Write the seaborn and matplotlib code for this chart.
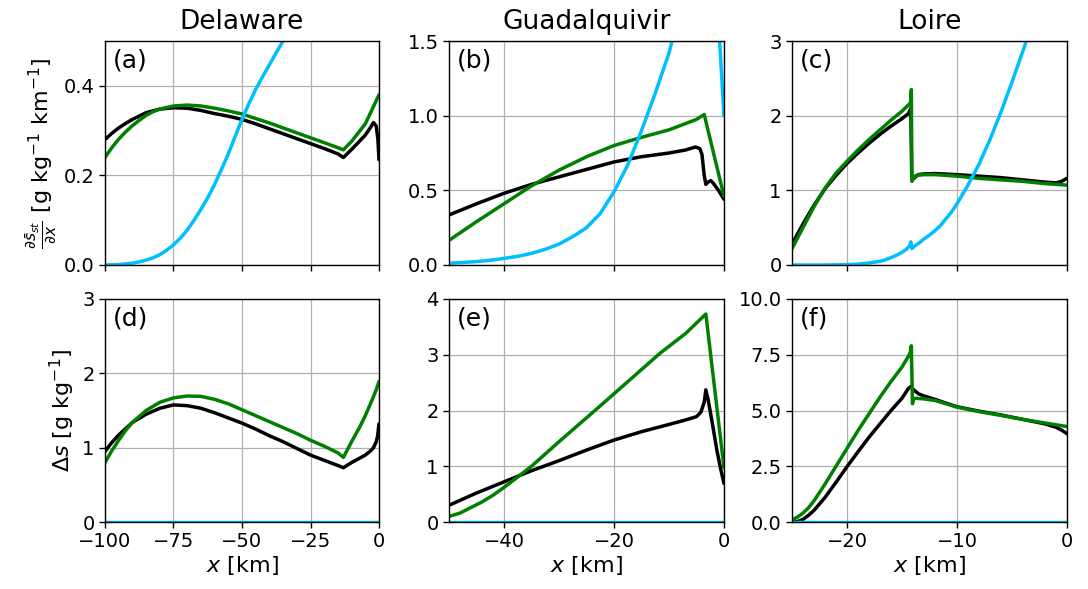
import numpy as np
import pandas as pd
import matplotlib
matplotlib.use("Agg")
import matplotlib.pyplot as plt
import seaborn as sns

# ---------------- data ----------------
titles = ["Delaware", "Guadalquivir", "Loire"]
panel_labels = ["(a)", "(b)", "(c)", "(d)", "(e)", "(f)"]

# Delaware - gradient (a)
a_black_x = [-100, -97.5, -95, -92.5, -90, -85, -80, -75, -70, -65, -60, -55, -50, -45, -40, -35, -30, -25, -20, -15, -13, -10, -7, -5, -3, -2, -1, -0.4, 0]
a_black_y = [0.28, 0.294, 0.306, 0.316, 0.325, 0.34, 0.348, 0.351, 0.35, 0.345, 0.338, 0.332, 0.325, 0.315, 0.304, 0.293, 0.282, 0.271, 0.26, 0.248, 0.24, 0.258, 0.277, 0.29, 0.308, 0.318, 0.31, 0.28, 0.235]
a_green_x = [-100, -97.5, -95, -92.5, -90, -87.5, -85, -82.5, -80, -75, -70, -65, -60, -55, -50, -45, -40, -35, -30, -25, -20, -15, -13, -10, -5, 0]
a_green_y = [0.24, 0.262, 0.281, 0.297, 0.311, 0.323, 0.334, 0.342, 0.348, 0.355, 0.357, 0.355, 0.35, 0.344, 0.337, 0.327, 0.317, 0.306, 0.295, 0.284, 0.273, 0.262, 0.257, 0.276, 0.315, 0.38]
a_blue_x = [-100, -95, -90, -87.5, -85, -82.5, -80, -77.5, -75, -72.5, -70, -67.5, -65, -62.5, -60, -57.5, -55, -52.5, -50, -47.5, -45, -42.5, -40, -37.5, -35, -30, -25]
a_blue_y = [0.0, 0.001, 0.004, 0.007, 0.011, 0.016, 0.023, 0.033, 0.045, 0.06, 0.078, 0.1, 0.124, 0.15, 0.18, 0.213, 0.248, 0.287, 0.325, 0.36, 0.392, 0.42, 0.447, 0.474, 0.5, 0.548, 0.59]

# Guadalquivir - gradient (b)
b_black_x = [-50, -45, -40, -35, -30, -25, -20, -15, -10, -7, -5.2, -4.4, -4.0, -3.6, -3.3, -2.9, -2.4, -2, -1, 0]
b_black_y = [0.335, 0.41, 0.48, 0.54, 0.59, 0.64, 0.69, 0.725, 0.75, 0.77, 0.79, 0.78, 0.74, 0.6, 0.54, 0.555, 0.565, 0.55, 0.5, 0.44]
b_green_x = [-50, -45, -40, -35, -30, -25, -20, -15, -10, -5, -3.6, 0]
b_green_y = [0.165, 0.29, 0.41, 0.53, 0.635, 0.725, 0.8, 0.855, 0.905, 0.975, 1.008, 0.46]
b_blue_x = [-50, -47.5, -45, -42.5, -40, -37.5, -35, -32.5, -30, -27.5, -25, -22.5, -20, -17.5, -15, -12.5, -10, -7.5, -5, -3, -2, -1.2, -0.8, 0]
b_blue_y = [0.012, 0.017, 0.023, 0.032, 0.044, 0.058, 0.078, 0.105, 0.14, 0.19, 0.25, 0.345, 0.49, 0.67, 0.9, 1.15, 1.42, 1.78, 2.3, 2.8, 3.0, 2.5, 1.5, 1.0]

# Loire - gradient (c)
c_black_x = [-25, -24, -23, -22, -21, -20, -19, -18, -17, -16, -15, -14.4, -14.2, -14.12, -14.0, -13.8, -13.5, -13, -12, -10, -8, -6, -4, -2, -1, -0.5, 0]
c_black_y = [0.28, 0.55, 0.8, 1.02, 1.2, 1.36, 1.5, 1.63, 1.75, 1.86, 1.96, 2.03, 2.1, 1.2, 1.15, 1.18, 1.21, 1.22, 1.225, 1.21, 1.19, 1.17, 1.14, 1.11, 1.1, 1.12, 1.16]
c_green_x = [-25, -24, -23, -22, -21, -20, -19, -18, -17, -16, -15, -14.3, -14.2, -14.15, -14.1, -14.0, -13.7, -13, -12, -10, -8, -6, -4, -2, 0]
c_green_y = [0.22, 0.5, 0.78, 1.03, 1.23, 1.39, 1.54, 1.68, 1.81, 1.94, 2.06, 2.16, 2.18, 2.35, 1.12, 1.17, 1.2, 1.21, 1.21, 1.19, 1.16, 1.14, 1.12, 1.09, 1.07]
c_blue_x = [-25, -22, -20, -19, -18, -17, -16.5, -16, -15.5, -15, -14.6, -14.3, -14.2, -14.1, -13.8, -13.4, -13, -12.5, -12, -11.5, -11, -10.5, -10, -9, -8, -7, -6, -5, -4, -3, -2, 0]
c_blue_y = [0.0, 0.0, 0.005, 0.012, 0.026, 0.05, 0.07, 0.098, 0.13, 0.17, 0.21, 0.26, 0.31, 0.22, 0.26, 0.3, 0.35, 0.4, 0.46, 0.53, 0.62, 0.71, 0.82, 1.07, 1.35, 1.68, 2.05, 2.45, 2.87, 3.3, 3.7, 4.5]

# Delaware - salinity difference (d)
d_black_x = [-100, -97.5, -95, -90, -85, -80, -75, -70, -65, -60, -55, -50, -45, -40, -35, -30, -25, -20, -15, -13, -10, -5, -3, -2, -1, -0.5, 0]
d_black_y = [0.95, 1.07, 1.17, 1.34, 1.45, 1.53, 1.575, 1.565, 1.53, 1.47, 1.40, 1.33, 1.25, 1.16, 1.08, 0.99, 0.9, 0.83, 0.76, 0.73, 0.8, 0.9, 0.96, 1.0, 1.08, 1.16, 1.32]
d_green_x = [-100, -97.5, -95, -92.5, -90, -85, -80, -75, -70, -65, -60, -55, -50, -45, -40, -35, -30, -25, -20, -15, -13, -10, -7, -5, -3, -1, 0]
d_green_y = [0.8, 0.96, 1.1, 1.23, 1.34, 1.5, 1.61, 1.67, 1.695, 1.69, 1.65, 1.59, 1.51, 1.43, 1.35, 1.27, 1.19, 1.1, 1.02, 0.93, 0.87, 1.08, 1.28, 1.43, 1.6, 1.78, 1.89]

# Guadalquivir - salinity difference (e)
e_black_x = [-50, -45, -40, -35, -30, -25, -20, -15, -10, -7, -5, -4.2, -3.6, -3.3, -2.9, -2.5, -2, -1.3, -0.6, 0]
e_black_y = [0.3, 0.52, 0.72, 0.92, 1.1, 1.29, 1.47, 1.62, 1.75, 1.83, 1.89, 1.97, 2.15, 2.37, 2.2, 1.98, 1.7, 1.29, 0.95, 0.69]
e_green_x = [-50, -48, -46, -44, -42, -40, -38, -35, -30, -23, -17, -11.6, -7, -3.3, 0]
e_green_y = [0.1, 0.16, 0.26, 0.36, 0.48, 0.62, 0.77, 1.0, 1.44, 2.04, 2.56, 3.03, 3.38, 3.73, 0.97]

# Loire - salinity difference (f)
f_black_x = [-25, -24.5, -24, -23.5, -23, -22, -21, -20, -19, -18, -17, -16, -15, -14.4, -14.2, -14.0, -13.5, -13, -12, -11, -10, -8, -6, -4, -2, -1, -0.5, 0]
f_black_y = [0.0, 0.02, 0.12, 0.3, 0.52, 1.1, 1.78, 2.48, 3.15, 3.8, 4.4, 5.0, 5.55, 6.0, 6.07, 5.95, 5.75, 5.65, 5.5, 5.33, 5.17, 4.97, 4.8, 4.6, 4.4, 4.25, 4.12, 3.96]
f_green_x = [-25, -24.5, -24, -23.5, -23, -22, -21, -20, -19, -18, -17, -16, -15, -14.4, -14.25, -14.15, -14.05, -13.95, -13.8, -13, -12, -11, -10, -8, -6, -4, -2, 0]
f_green_y = [0.1, 0.22, 0.4, 0.64, 0.95, 1.7, 2.5, 3.3, 4.1, 4.85, 5.6, 6.3, 6.95, 7.45, 7.6, 7.9, 5.3, 5.5, 5.55, 5.52, 5.45, 5.3, 5.15, 4.95, 4.78, 4.6, 4.44, 4.28]

# blue line of the lower row (zero everywhere)
zero_x = [-100, 0]
zero_y = [0.0, 0.0]

x_limits = [(-100, 0), (-50, 0), (-25, 0)]
x_ticks = [[-100, -75, -50, -25, 0], [-40, -20, 0], [-20, -10, 0]]
top_ylim = [(0, 0.5), (0, 1.5), (0, 3)]
top_yticks = [[0.0, 0.2, 0.4], [0.0, 0.5, 1.0, 1.5], [0, 1, 2, 3]]
bot_ylim = [(0, 3), (0, 4), (0, 10)]
bot_yticks = [[0, 1, 2, 3], [0, 1, 2, 3, 4], [0.0, 2.5, 5.0, 7.5, 10.0]]
top_ytick_labels = [["0.0", "0.2", "0.4"], ["0.0", "0.5", "1.0", "1.5"], ["0", "1", "2", "3"]]
bot_ytick_labels = [["0", "1", "2", "3"], ["0", "1", "2", "3", "4"], ["0.0", "2.5", "5.0", "7.5", "10.0"]]

# ---------------- styling ----------------
BLACK = "black"
GREEN = "green"
BLUE = "deepskyblue"
LW = 2.5

sns.set_style("ticks")
plt.rcParams["font.family"] = ["DejaVu Sans"]
plt.rcParams["mathtext.fontset"] = "dejavusans"
for key in ["text.color", "axes.labelcolor", "xtick.color", "ytick.color", "axes.edgecolor"]:
    plt.rcParams[key] = "black"

fig = plt.figure(figsize=(10.88, 5.89), dpi=100)
W, H = 1088.0, 589.0
lefts = [105, 449, 792]
widths = [274, 275, 275]
tops = [41, 299]
heights = [224, 223]

axes = []
for r in range(2):
    row = []
    for c in range(3):
        ax = fig.add_axes([lefts[c] / W, 1 - (tops[r] + heights[r]) / H, widths[c] / W, heights[r] / H])
        row.append(ax)
    axes.append(row)


def draw(ax, x, y, color):
    df = pd.DataFrame({"x": x, "y": y})
    sns.lineplot(data=df, x="x", y="y", ax=ax, color=color, lw=LW,
                 sort=False, estimator=None, legend=False)


top_series = [
    [(a_black_x, a_black_y, BLACK), (a_green_x, a_green_y, GREEN), (a_blue_x, a_blue_y, BLUE)],
    [(b_black_x, b_black_y, BLACK), (b_green_x, b_green_y, GREEN), (b_blue_x, b_blue_y, BLUE)],
    [(c_black_x, c_black_y, BLACK), (c_green_x, c_green_y, GREEN), (c_blue_x, c_blue_y, BLUE)],
]
bot_series = [
    [(d_black_x, d_black_y, BLACK), (d_green_x, d_green_y, GREEN), (zero_x, zero_y, BLUE)],
    [(e_black_x, e_black_y, BLACK), (e_green_x, e_green_y, GREEN), (zero_x, zero_y, BLUE)],
    [(f_black_x, f_black_y, BLACK), (f_green_x, f_green_y, GREEN), (zero_x, zero_y, BLUE)],
]

TICK_FS = 14
LABEL_FS = 16
TITLE_FS = 19
PANEL_FS = 18

for c in range(3):
    for r, series, ylim, yt, ytl in [(0, top_series[c], top_ylim[c], top_yticks[c], top_ytick_labels[c]),
                                     (1, bot_series[c], bot_ylim[c], bot_yticks[c], bot_ytick_labels[c])]:
        ax = axes[r][c]
        for x, y, col in series:
            draw(ax, x, y, col)
        ax.set_xlim(*x_limits[c])
        ax.set_ylim(*ylim)
        ax.set_xticks(x_ticks[c])
        ax.set_yticks(yt)
        ax.set_yticklabels(ytl)
        ax.grid(True, color="#b0b0b0", lw=0.9)
        ax.set_axisbelow(True)
        for s in ax.spines.values():
            s.set_color("black")
            s.set_linewidth(1.0)
            s.set_visible(True)
        ax.tick_params(labelsize=TICK_FS, direction="out", length=4, width=1,
                       color="black", labelcolor="black")
        ax.set_xlabel("")
        ax.set_ylabel("")
        ax.text(0.03, 0.965, panel_labels[r * 3 + c], transform=ax.transAxes,
                fontsize=PANEL_FS, va="top", ha="left", color="black")
        if r == 0:
            ax.set_xticklabels([])
            ax.set_title(titles[c], fontsize=TITLE_FS, pad=9, color="black")
        else:
            ax.set_xlabel(r"$x$ [km]", fontsize=LABEL_FS, labelpad=2, color="black")

axes[0][0].set_ylabel(r"$\frac{\partial \bar{s}_{st}}{\partial x}$ [g kg$^{-1}$ km$^{-1}$]",
                      fontsize=LABEL_FS, color="black")
axes[1][0].set_ylabel(r"$\Delta s$ [g kg$^{-1}$]", fontsize=LABEL_FS, color="black")

fig.savefig("out.png", dpi=100)
